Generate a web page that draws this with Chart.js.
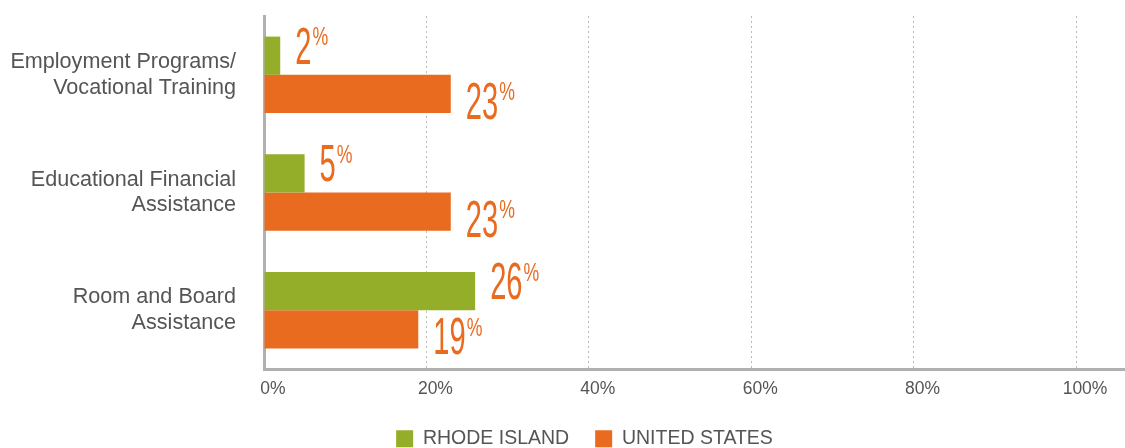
<!DOCTYPE html>
<html>
<head>
<meta charset="utf-8">
<script src="https://cdn.jsdelivr.net/npm/chart.js@4"></script>
<style>
  html, body { margin: 0; padding: 0; background: #ffffff; }
  #wrap { width: 1125px; height: 448px; position: relative; }
</style>
</head>
<body>
<div id="wrap"><canvas id="c" width="1125" height="448"></canvas></div>
<script>
// ---- data ----
const categories = [
  ['Employment Programs/', 'Vocational Training'],
  ['Educational Financial', 'Assistance'],
  ['Room and Board', 'Assistance']
];
const seriesNames = ['RHODE ISLAND', 'UNITED STATES'];
const rhodeIsland = [2, 5, 26];
const unitedStates = [23, 23, 19];
const xTickValues = [0, 20, 40, 60, 80, 100];

const GREEN = '#95AE2A';
const ORANGE = '#E86B20';
const SANS = '"Liberation Sans", Arial, sans-serif';

const valueLabels = {
  id: 'valueLabels',
  afterDatasetsDraw(chart) {
    const ctx = chart.ctx;
    chart.data.datasets.forEach((ds, di) => {
      const meta = chart.getDatasetMeta(di);
      meta.data.forEach((bar, i) => {
        const s = String(ds.data[i]);
        const x0 = bar.x + 15;
        const base = bar.y + (di === 0 ? 8 : 25);
        ctx.save();
        ctx.fillStyle = ORANGE;
        ctx.textAlign = 'left';
        ctx.textBaseline = 'alphabetic';
        ctx.font = '52px ' + SANS;
        const w = ctx.measureText(s).width * 0.56;
        ctx.translate(x0, base);
        ctx.scale(0.56, 1);
        ctx.fillText(s, 0, 0);
        ctx.restore();
        ctx.save();
        ctx.fillStyle = ORANGE;
        ctx.textAlign = 'left';
        ctx.textBaseline = 'alphabetic';
        ctx.font = '26px ' + SANS;
        ctx.translate(x0 + w + 1, base - 18.5);
        ctx.scale(0.68, 1);
        ctx.fillText('%', 0, 0);
        ctx.restore();
      });
    });
  }
};

new Chart(document.getElementById('c'), {
  type: 'bar',
  data: {
    labels: categories,
    datasets: [
      { label: seriesNames[0], data: rhodeIsland, backgroundColor: GREEN, borderWidth: 0 },
      { label: seriesNames[1], data: unitedStates, backgroundColor: ORANGE, borderWidth: 0 }
    ]
  },
  options: {
    indexAxis: 'y',
    responsive: false,
    animation: false,
    devicePixelRatio: 1,
    layout: { padding: { left: 0, top: 16, right: -44, bottom: -10.5 } },
    datasets: { bar: { barPercentage: 1, categoryPercentage: 0.65 } },
    scales: {
      x: {
        min: 0,
        max: 106.03,
        afterBuildTicks: (s) => { s.ticks = xTickValues.map(v => ({ value: v })); },
        afterFit: (s) => { s.height = 34; },
        grid: {
          drawTicks: false,
          color: (c) => (c.tick && c.tick.value === 0) ? 'rgba(0,0,0,0)' : '#b8b8b8',
          lineWidth: 1
        },
        border: { display: true, color: '#b0b0b0', width: 3, dash: [2, 3] },
        ticks: {
          padding: 10,
          labelOffset: 9,
          color: '#555555',
          font: { family: SANS, size: 17.5 },
          callback: (v) => v + '%'
        }
      },
      y: {
        afterFit: (s) => { s.width = 264; s.paddingTop = 0; s.paddingBottom = 0; },
        border: { display: true, color: '#b0b0b0', width: 3 },
        grid: { display: false, drawTicks: false },
        ticks: {
          padding: 28,
          color: '#555555',
          font: { family: SANS, size: 21.6, lineHeight: 1.18 }
        }
      }
    },
    plugins: {
      legend: {
        position: 'bottom',
        labels: {
          boxWidth: 17,
          boxHeight: 17,
          padding: 26,
          color: '#555555',
          font: { family: SANS, size: 19.5 }
        }
      },
      tooltip: { enabled: false }
    }
  },
  plugins: [valueLabels]
});
</script>
</body>
</html>
